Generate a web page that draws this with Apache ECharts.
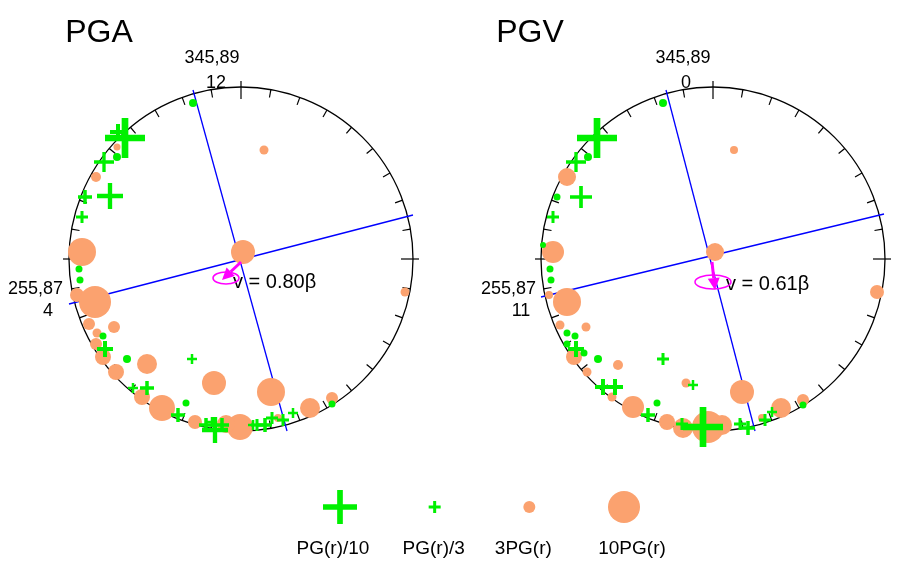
<!DOCTYPE html>
<html><head><meta charset="utf-8">
<script src="https://cdn.jsdelivr.net/npm/echarts@6/dist/echarts.min.js"></script>
<style>html,body{margin:0;background:#fff}#c{width:900px;height:567px}</style>
</head><body><div id="c"></div>
<script>
// plot units: circle radius = 172, points as [x, y, size]
var R = 172;
var pgaDots = [[-48,156,8],[-124,102,8],[-162,-10,7],[-161,-21,7],[-138,-77,7],[-114,-100,8],[-55,-144,7],[91,-145,7]];
var pgaCross = [[-116,121,40],[-123,127,16],[-137,97,20],[-131,63,26],[-156,62,14],[-159,42,12],[-136,-90,16],[-49,-100,10],
  [-108,-129,10],[-94,-129,14],[-63,-156,14],[-35,-166,14],[-26,-171,26],[-19,-166,14],[-29,-163,10],[12,-166,10],[16,-166,12],
  [24,-166,14],[31,-159,12],[42,-161,12],[52,-154,10]];
var pgaCirc = [[-124,112,7],[-145,82,10],[23,109,9],[164,-33,9],[-159,7,28],[2,7,24],[-164,-36,14],[-146,-43,32],[-152,-65,12],
  [-127,-68,12],[-144,-74,9],[-145,-85,12],[-138,-98,16],[-94,-105,20],[-125,-113,16],[-27,-124,24],[-99,-138,16],[-79,-149,26],
  [-46,-163,14],[-1,-168,26],[-15,-165,18],[30,-133,28],[37,-159,8],[69,-149,20],[91,-139,12]];
var pgaLines = [[[-48,169],[46,-172]],[[-172,-45],[172,44]]];
var pgaArrow = [[0,-3],[-19,-21]];
var pgaEllipse = [-15,-19,13,6];

var pgvDots = [[-50,156,8],[-125,102,8],[-156,62,7],[-170,14,6],[-163,-10,7],[-162,-21,7],[-146,-74,7],[-138,-77,7],[-146,-85,7],
  [-129,-94,7],[-115,-100,8],[-56,-144,7],[90,-146,7]];
var pgvCross = [[-116,121,40],[-137,97,20],[-132,62,22],[-160,42,12],[-137,-90,16],[-50,-100,12],[-20,-126,10],[-110,-128,16],
  [-98,-128,16],[-65,-156,14],[-31,-165,12],[-10,-168,40],[27,-165,12],[35,-169,14],[52,-161,12],[59,-153,10]];
var pgvCirc = [[21,109,8],[-146,82,18],[-160,7,22],[2,7,18],[164,-33,14],[-164,-36,8],[-146,-43,28],[-153,-66,9],[-127,-68,9],
  [-139,-98,16],[-95,-106,10],[-126,-113,9],[-27,-124,9],[-101,-138,9],[-80,-148,22],[-46,-163,16],[-30,-169,20],[-5,-168,32],
  [9,-166,20],[29,-133,24],[68,-149,20],[90,-141,12],[49,-159,8]];
var pgvLines = [[[-47,169],[42,-172]],[[-172,-38],[171,45]]];
var pgvArrow = [[-1,-3],[2,-31]];
var pgvEllipse = [0,-23,18,7];

var legendNames = ['PG(r)/10','PG(r)/3','3PG(r)','10PG(r)'];
var legendSizes = [34,12,12,32];

var GREEN = '#00f000', ORANGE = '#fba26f';
var CROSS_THIN = 'path://M5,0H7V5H12V7H7V12H5V7H0V5H5Z';
var CROSS = 'path://M3,0H5V3H8V5H5V8H3V5H0V3H3Z';
function crossFor(s) { return s >= 20 ? CROSS_THIN : CROSS; }

var chart = echarts.init(document.getElementById('c'));

function frame(idx, lines, arrow, ell) {
  var out = [];
  out.push({
    type: 'custom', xAxisIndex: idx, yAxisIndex: idx, data: [[0,0]], silent: true, z: 1,
    renderItem: function (params, api) {
      var c = api.coord([0,0]);
      var r = api.size([R,0])[0];
      var kids = [{type:'circle', shape:{cx:c[0],cy:c[1],r:r}, style:{fill:'none',stroke:'#000',lineWidth:1.3}}];
      for (var a = 0; a < 360; a += 10) {
        var t = a*Math.PI/180, s = Math.sin(t), co = -Math.cos(t);
        var major = a % 90 === 0;
        var r0 = major ? r + 6 : r, r1 = major ? r - 12 : r - 8;
        kids.push({type:'line', shape:{x1:c[0]+s*r0,y1:c[1]+co*r0,x2:c[0]+s*r1,y2:c[1]+co*r1}, style:{stroke:'#000',lineWidth:1.2}});
      }
      lines.forEach(function (l) {
        var p = api.coord(l[0]), q = api.coord(l[1]);
        kids.push({type:'line', shape:{x1:p[0],y1:p[1],x2:q[0],y2:q[1]}, style:{stroke:'#0000ff',lineWidth:1.3}});
      });
      return {type:'group', children: kids};
    }
  });
  out.push({
    type: 'custom', xAxisIndex: idx, yAxisIndex: idx, data: [[0,0]], silent: true, z: 5,
    renderItem: function (params, api) {
      var p = api.coord(arrow[0]), q = api.coord(arrow[1]);
      var e = api.coord([ell[0], ell[1]]);
      var rx = api.size([ell[2],0])[0], ry = api.size([0,ell[3]])[1];
      var ang = Math.atan2(q[1]-p[1], q[0]-p[0]);
      var hl = 12, hw = 6;
      var bx = q[0]-Math.cos(ang)*hl, by = q[1]-Math.sin(ang)*hl;
      var nx = -Math.sin(ang)*hw, ny = Math.cos(ang)*hw;
      return {type:'group', children: [
        {type:'ellipse', shape:{cx:e[0],cy:e[1],rx:rx,ry:ry}, style:{fill:'none',stroke:'#ff00ff',lineWidth:1.5}},
        {type:'line', shape:{x1:p[0],y1:p[1],x2:bx,y2:by}, style:{stroke:'#ff00ff',lineWidth:3}},
        {type:'polygon', shape:{points:[[q[0],q[1]],[bx+nx,by+ny],[bx-nx,by-ny]]}, style:{fill:'#ff00ff'}}
      ]};
    }
  });
  return out;
}

function pts(idx, data, color, isCross, z) {
  return {
    type: 'scatter', xAxisIndex: idx, yAxisIndex: idx, z: z, silent: true,
    data: data.map(function (d) {
      return {value:[d[0],d[1]], symbolSize:d[2], symbol: isCross ? crossFor(d[2]) : 'circle'};
    }),
    itemStyle: {color: color, opacity: 1}
  };
}

var series = [];
[[pgaDots,pgaCross,pgaCirc,pgaLines,pgaArrow,pgaEllipse],[pgvDots,pgvCross,pgvCirc,pgvLines,pgvArrow,pgvEllipse]].forEach(function (g, i) {
  series = series.concat(frame(i, g[3], g[4], g[5]));
  series.push(pts(i, g[2], ORANGE, false, 2));
  series.push(pts(i, g[0], GREEN, false, 3));
  series.push(pts(i, g[1], GREEN, true, 4));
});
// legend row
var legSyms = [crossFor(34), CROSS, 'circle', 'circle'], legCols = [GREEN, GREEN, ORANGE, ORANGE];
var legShift = [-7, -1, -6, 8];
series.push({
  type: 'scatter', xAxisIndex: 2, yAxisIndex: 2, silent: true,
  data: legendNames.map(function (n, i) {
    return {value:[i,0], symbol: legSyms[i], symbolSize: legendSizes[i], itemStyle:{color: legCols[i], opacity: 1},
      label:{show:true, position:'bottom', distance: 32 - legendSizes[i]/2, offset:[legShift[i],0], formatter: n, fontSize: 19, color:'#000', fontFamily:'Liberation Sans'}};
  })
});

function ax(i, min, max) { return {type:'value', gridIndex:i, min:min, max:max, show:false}; }

var T = {fontFamily:'Liberation Sans', fill:'#000'};
function txt(x, y, s, size, align) {
  return {type:'text', x:x, y:y, style:Object.assign({text:s, fontSize:size, textAlign:align||'center', textVerticalAlign:'middle'}, T)};
}

chart.setOption({
  animation: false,
  grid: [
    {left:69, top:87, width:344, height:344},
    {left:541, top:87, width:344, height:344},
    {left:340, top:490, width:284, height:34}
  ],
  xAxis: [ax(0,-R,R), ax(1,-R,R), ax(2,0,3)],
  yAxis: [ax(0,-R,R), ax(1,-R,R), ax(2,-1,1)],
  series: series,
  graphic: [
    txt(99,33,'PGA',32), txt(530,33,'PGV',32),
    txt(212,58,'345,89',18), txt(216,83,'12',18),
    txt(683,58,'345,89',18), txt(686,83,'0',18),
    txt(63,289,'255,87',18,'right'), txt(48,311,'4',18),
    txt(536,289,'255,87',18,'right'), txt(521,311,'11',18),
    txt(233,282,'v = 0.80\u03b2',20,'left'), txt(726,284,'v = 0.61\u03b2',20,'left')
  ]
});
</script></body></html>
